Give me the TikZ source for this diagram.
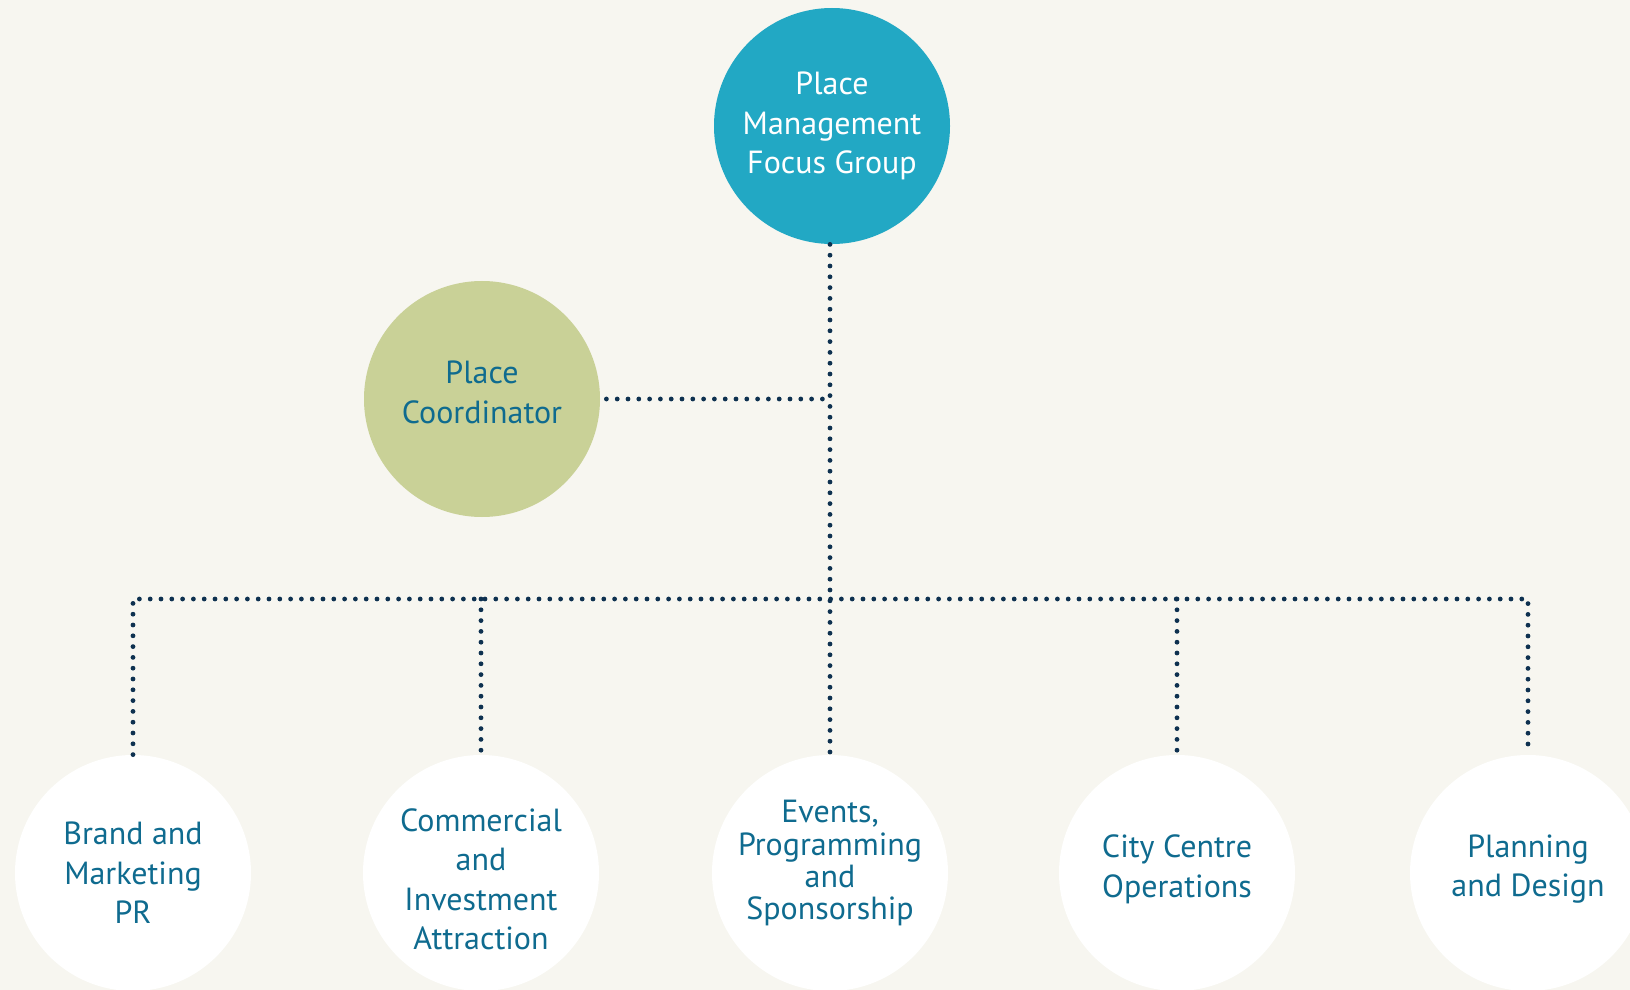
\documentclass[tikz,border=0pt]{standalone}
\usepackage{fontspec}
\setmainfont{PT Sans}
\definecolor{paper}{HTML}{F7F6F0}
\definecolor{teal}{HTML}{22A8C4}
\definecolor{sage}{HTML}{C9D197}
\definecolor{ink}{HTML}{0F6B8F}
\definecolor{navy}{HTML}{0E3150}
\begin{document}
\begin{tikzpicture}[x=0.5pt,y=-0.5pt,
    group/.style={circle,minimum size=118pt,inner sep=0pt,align=center,
        font=\fontsize{16}{19.75}\selectfont},
    head/.style={group,fill=teal,text=white},
    coordinator/.style={group,fill=sage,text=ink},
    team/.style={group,fill=white,text=ink},
    link/.style={navy,line width=2.4pt,line cap=round,dash pattern=on 0pt off 5.4pt}]
    \useasboundingbox[fill=paper] (0,0) rectangle (1630,990);
    \node[head] (focus) at (832,126) {Place\\Management\\Focus Group};
    \node[coordinator,text depth=6.8pt] (coord) at (482,399) {Place\\Coordinator};
    \node[team] (brand) at (133,873) {Brand and\\Marketing\\PR};
    \node[team,text height=77pt] (commercial) at (481,873) {Commercial\\and\\Investment\\Attraction};
    \node[team,text depth=13pt,font=\fontsize{16}{16.1}\selectfont] (events) at (830,873)
        {Events,\\Programming\\and\\Sponsorship};
    \node[team,text depth=7.1pt] (city) at (1177,873) {City Centre\\Operations};
    \node[team,text depth=7.1pt] (planning) at (1528,873) {Planning\\and Design};
    \coordinate (bus) at (830,599);
    % spine and side branch
    \draw[link] (events.north |- focus.south) -- (events.north);
    \draw[link,shorten <=3pt] (coord.east) -- (coord.east -| events.north);
    % bus and drops
    \draw[link] (brand.north) -- (brand.north |- bus) -- (planning.north |- bus) -- (planning.north);
    \draw[link] (commercial.north |- bus) -- (commercial.north);
    \draw[link] (city.north |- bus) -- (city.north);
\end{tikzpicture}
\end{document}
